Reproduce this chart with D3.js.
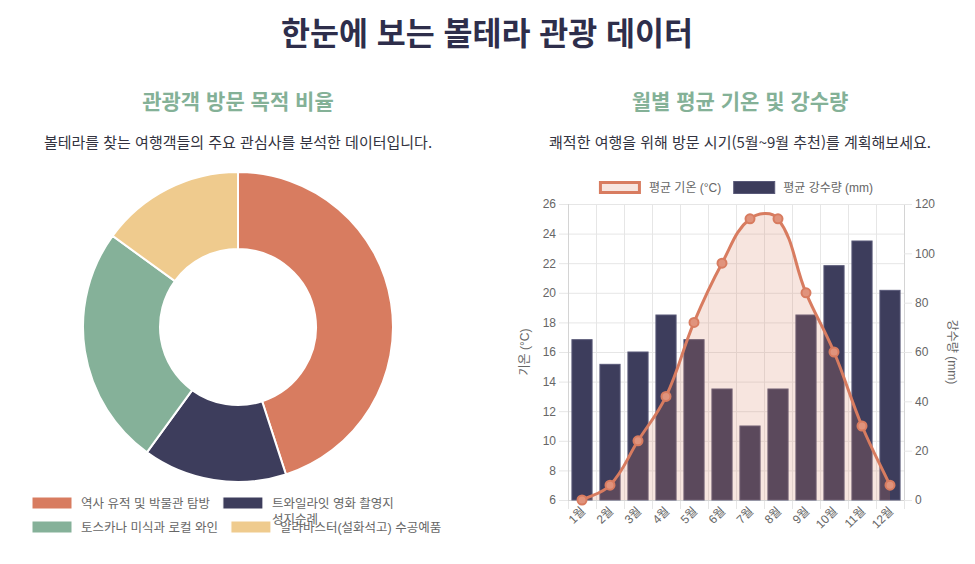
<!DOCTYPE html>
<html lang="ko">
<head>
<meta charset="UTF-8">
<title>볼테라 관광 데이터</title>
<script src="https://cdn.jsdelivr.net/npm/d3@7"></script>
<style>
    body { margin: 0; background: #fff; }
    .head { font-family: "Noto Sans CJK KR", sans-serif; }
    .cj { font-family: "Liberation Sans", "Noto Sans CJK KR", sans-serif; fill: #666; font-size: 12px; }
</style>
</head>
<body>
<svg id="page" width="975" height="564"></svg>
<script>
    // data
    let purposeLabels = [['역사 유적 및 박물관 탐방'], ['트와일라잇 영화 촬영지', '성지순례'],
        ['토스카나 미식과 로컬 와인'], ['알라바스터(설화석고) 수공예품']];
    let purposeShares = [45, 15, 25, 15];
    let purposeColours = ['#d87c60', '#3d3d5c', '#85b199', '#efcb8e'];

    let months = ['1월','2월','3월','4월','5월','6월','7월','8월','9월','10월','11월','12월'];
    let avgTemp = [6, 7, 10, 13, 18, 22, 25, 25, 20, 16, 11, 7];
    let avgRain = [65, 55, 60, 75, 65, 45, 30, 45, 75, 95, 105, 85];
    let tempTicks = d3.range(6, 27, 2);
    let rainTicks = d3.range(0, 121, 20);

    let svg = d3.select('svg#page');

    // headings
    svg.append('text').attr('class', 'head')
        .attr('x', 487).attr('y', 45).attr('text-anchor', 'middle')
        .style('font-size', '31.5px').style('font-weight', 700).style('fill', '#2e2e4b')
        .text('한눈에 보는 볼테라 관광 데이터');

    let cols = [
        {cx: 238, title: '관광객 방문 목적 비율', desc: '볼테라를 찾는 여행객들의 주요 관심사를 분석한 데이터입니다.'},
        {cx: 740, title: '월별 평균 기온 및 강수량', desc: '쾌적한 여행을 위해 방문 시기(5월~9월 추천)를 계획해보세요.'}
    ];
    cols.forEach(function (c) {
        svg.append('text').attr('class', 'head')
            .attr('x', c.cx).attr('y', 108.5).attr('text-anchor', 'middle')
            .style('font-size', '21px').style('font-weight', 700).style('fill', '#84b197')
            .text(c.title);
        svg.append('text').attr('class', 'head')
            .attr('x', c.cx).attr('y', 148).attr('text-anchor', 'middle')
            .style('font-size', '15px').style('fill', '#333340')
            .text(c.desc);
    });

    // ---------- donut ----------
    let pie = d3.pie().sort(null).value(function (d) { return d; });
    let arc = d3.arc().innerRadius(78).outerRadius(155);
    let donut = svg.append('g').attr('transform', 'translate(238,327)');
    donut.selectAll('path')
        .data(pie(purposeShares))
        .enter()
        .append('path')
        .attr('d', arc)
        .style('fill', function (d, i) { return purposeColours[i]; })
        .style('stroke', '#fff')
        .style('stroke-width', 2);

    // donut legend, two rows laid out left to right
    let legRows = [[0, 1], [2, 3]];
    let legY = [503, 527];
    legRows.forEach(function (row, r) {
        let x = 32;
        row.forEach(function (i) {
            let g = svg.append('g');
            g.append('rect')
                .attr('x', x).attr('y', legY[r] - 6).attr('width', 40).attr('height', 12)
                .style('fill', purposeColours[i]).style('stroke', '#fff').style('stroke-width', 1);
            let t = g.append('text').attr('class', 'cj')
                .style('font-size', '12.5px')
                .attr('x', x + 49).attr('y', legY[r] + 4.5);
            purposeLabels[i].forEach(function (line, k) {
                t.append('tspan').attr('x', x + 49).attr('dy', k === 0 ? 0 : 16).text(line);
            });
            let first = t.select('tspan').node().getComputedTextLength();
            x = x + 49 + first + 13;
        });
    });

    // ---------- combo chart ----------
    let plot = {left: 568, right: 904, top: 204, bottom: 500};
    let xScale = d3.scaleBand().domain(months).range([plot.left, plot.right]);
    let yTemp = d3.scaleLinear().domain([6, 26]).range([plot.bottom, plot.top]);
    let yRain = d3.scaleLinear().domain([0, 120]).range([plot.bottom, plot.top]);

    let grid = svg.append('g').style('stroke', '#e6e6e6').style('stroke-width', 1);
    grid.selectAll('line.h')
        .data(tempTicks)
        .enter().append('line')
        .attr('x1', plot.left - 9).attr('x2', plot.right)
        .attr('y1', function (d) { return yTemp(d) + 0.5; })
        .attr('y2', function (d) { return yTemp(d) + 0.5; });
    let bounds = months.map(function (m) { return xScale(m); }).concat([plot.right]);
    grid.selectAll('line.v')
        .data(bounds)
        .enter().append('line')
        .attr('x1', function (d) { return Math.round(d) + 0.5; })
        .attr('x2', function (d) { return Math.round(d) + 0.5; })
        .attr('y1', plot.top).attr('y2', plot.bottom + 9);

    // axis lines
    svg.append('line').attr('x1', plot.left + 0.5).attr('x2', plot.left + 0.5)
        .attr('y1', plot.top).attr('y2', plot.bottom).style('stroke', '#d4d4d4');
    svg.append('line').attr('x1', plot.right + 0.5).attr('x2', plot.right + 0.5)
        .attr('y1', plot.top).attr('y2', plot.bottom).style('stroke', '#d4d4d4');
    svg.append('line').attr('x1', plot.left).attr('x2', plot.right)
        .attr('y1', plot.bottom + 0.5).attr('y2', plot.bottom + 0.5).style('stroke', '#d4d4d4');

    // left axis
    let yAxisL = svg.append('g')
        .attr('transform', 'translate(' + plot.left + ',0)')
        .call(d3.axisLeft(yTemp).tickValues(tempTicks).tickSize(0).tickPadding(12));
    yAxisL.select('.domain').remove();
    yAxisL.selectAll('text').attr('class', 'cj').attr('font-family', null).attr('font-size', null);

    // right axis
    let yAxisR = svg.append('g')
        .attr('transform', 'translate(' + plot.right + ',0)')
        .call(d3.axisRight(yRain).tickValues(rainTicks).tickSize(8).tickPadding(3));
    yAxisR.select('.domain').remove();
    yAxisR.selectAll('line').style('stroke', '#e6e6e6');
    yAxisR.selectAll('text').attr('class', 'cj').attr('font-family', null).attr('font-size', null);

    // x axis labels, rotated
    let xAxis = svg.append('g')
        .attr('transform', 'translate(0,' + plot.bottom + ')')
        .call(d3.axisBottom(xScale).tickSize(0).tickPadding(0));
    xAxis.select('.domain').remove();
    xAxis.selectAll('text')
        .attr('class', 'cj').attr('font-family', null).attr('font-size', null)
        .attr('text-anchor', 'end')
        .attr('dy', null)
        .attr('transform', 'translate(4,12) rotate(-45)');

    // axis titles
    svg.append('text').attr('class', 'cj')
        .attr('transform', 'translate(529,352) rotate(-90)')
        .attr('text-anchor', 'middle').text('기온 (°C)');
    svg.append('text').attr('class', 'cj')
        .attr('transform', 'translate(948,352) rotate(90)')
        .attr('text-anchor', 'middle').text('강수량 (mm)');

    // bars
    let barW = xScale.bandwidth() * 0.72;
    svg.append('g').selectAll('rect')
        .data(avgRain)
        .enter().append('rect')
        .attr('x', function (d, i) { return xScale(months[i]) + (xScale.bandwidth() - barW) / 2; })
        .attr('y', function (d) { return yRain(d); })
        .attr('width', barW)
        .attr('height', function (d) { return plot.bottom - yRain(d); })
        .style('fill', '#3d3d5c')
        .style('stroke', '#595978')
        .style('stroke-width', 1);

    // temperature points in pixels
    let pts = avgTemp.map(function (d, i) {
        return [xScale(months[i]) + xScale.bandwidth() / 2, yTemp(d)];
    });

    // smooth path with distance-weighted control points (tension 0.4)
    function splinePath(p, tension, closeBottom) {
        let ctrl = p.map(function (cur, i) {
            let prev = p[Math.max(i - 1, 0)], next = p[Math.min(i + 1, p.length - 1)];
            let d01 = Math.hypot(cur[0] - prev[0], cur[1] - prev[1]);
            let d12 = Math.hypot(next[0] - cur[0], next[1] - cur[1]);
            let s01 = d01 / (d01 + d12) || 0, s12 = d12 / (d01 + d12) || 0;
            let fa = tension * s01, fb = tension * s12;
            let cap = function (y) { return Math.max(plot.top, Math.min(plot.bottom, y)); };
            return {
                prev: [cur[0] - fa * (next[0] - prev[0]), cap(cur[1] - fa * (next[1] - prev[1]))],
                next: [cur[0] + fb * (next[0] - prev[0]), cap(cur[1] + fb * (next[1] - prev[1]))]
            };
        });
        let path = d3.path();
        path.moveTo(p[0][0], p[0][1]);
        for (let i = 1; i < p.length; i++) {
            path.bezierCurveTo(ctrl[i - 1].next[0], ctrl[i - 1].next[1],
                ctrl[i].prev[0], ctrl[i].prev[1], p[i][0], p[i][1]);
        }
        if (closeBottom) {
            path.lineTo(p[p.length - 1][0], plot.bottom);
            path.lineTo(p[0][0], plot.bottom);
            path.closePath();
        }
        return path.toString();
    }

    svg.append('path')
        .attr('d', splinePath(pts, 0.4, true))
        .style('fill', 'rgba(216,124,96,0.2)');
    svg.append('path')
        .attr('d', splinePath(pts, 0.4, false))
        .style('fill', 'none')
        .style('stroke', '#d87c60')
        .style('stroke-width', 3);
    svg.append('g').selectAll('circle')
        .data(pts)
        .enter().append('circle')
        .attr('cx', function (d) { return d[0]; })
        .attr('cy', function (d) { return d[1]; })
        .attr('r', 4.5)
        .style('fill', '#e0937c')
        .style('stroke', '#d87c60')
        .style('stroke-width', 2);

    // combo legend, centered over plot
    let legItems = [
        {label: '평균 기온 (°C)', fill: 'rgba(216,124,96,0.2)', stroke: '#d87c60', sw: 3},
        {label: '평균 강수량 (mm)', fill: '#3d3d5c', stroke: '#595978', sw: 1}
    ];
    let leg = svg.append('g');
    let lx = 0;
    legItems.forEach(function (it) {
        let g = leg.append('g').attr('transform', 'translate(' + lx + ',0)');
        g.append('rect').attr('x', it.sw / 2).attr('y', 181 + it.sw / 2)
            .attr('width', 42 - it.sw).attr('height', 13 - it.sw)
            .style('fill', it.fill).style('stroke', it.stroke).style('stroke-width', it.sw);
        let t = g.append('text').attr('class', 'cj').attr('x', 50).attr('y', 192).text(it.label);
        lx += 50 + t.node().getComputedTextLength() + 12;
    });
    lx -= 12;
    leg.attr('transform', 'translate(' + ((plot.left + plot.right) / 2 - lx / 2) + ',0)');
</script>
</body>
</html>
